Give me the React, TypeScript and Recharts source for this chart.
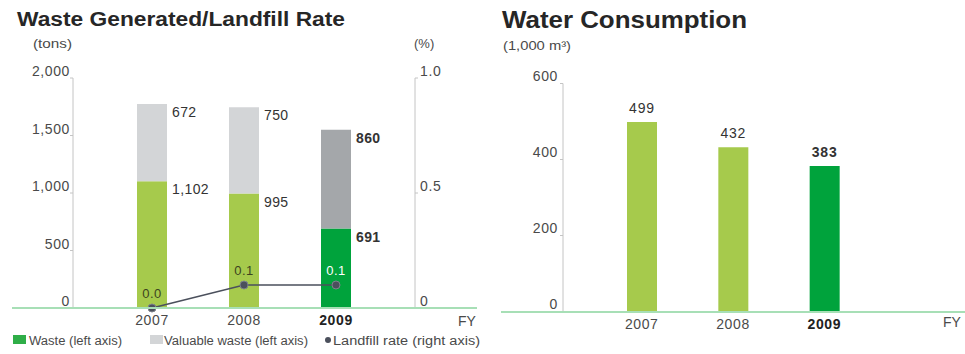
import React from "react";
import { ComposedChart, BarChart, Bar, Line, XAxis, YAxis, Cell, LabelList } from "recharts";

const years = ["2007", "2008", "2009"];
const waste = [1102, 995, 691];
const valuableWaste = [672, 750, 860];
const landfillRate = [0.0, 0.1, 0.1];
const water = [499, 432, 383];
const leftTicks = [0, 500, 1000, 1500, 2000];
const rightTicks = [0, 0.5, 1];
const waterTicks = [0, 200, 400, 600];

const wasteData = years.map((y, i) => ({ year: y, waste: waste[i], valuable: valuableWaste[i], rate: landfillRate[i] }));
const waterData = years.map((y, i) => ({ year: y, water: water[i] }));

const FONT = "'Liberation Sans', Arial, sans-serif";
const LIGHT_GREEN = "#a6ca4c";
const DARK_GREEN = "#00a33c";
const LIGHT_GRAY = "#d3d5d7";
const DARK_GRAY = "#a4a7aa";
const AXIS = "#c4c4c4";
const TXT = "#4a4a4a";

const fmtLeft = (v: number) => v.toLocaleString("en-US");
const fmtRight = (v: number) => (v === 0 ? "0" : v.toFixed(1));

const LeftTick = (p: any) => (
  <text x={p.x} y={p.y - 2} textAnchor="end" fontFamily={FONT} fontSize={14} letterSpacing={0.6} fill={TXT}>
    {fmtLeft(p.payload.value)}
  </text>
);
const RightTick = (p: any) => (
  <text x={p.x} y={p.y - 2} textAnchor="start" fontFamily={FONT} fontSize={14} letterSpacing={0.6} fill={TXT}>
    {fmtRight(p.payload.value)}
  </text>
);
const WaterTick = (p: any) => (
  <text x={p.x} y={p.y - 3} textAnchor="end" fontFamily={FONT} fontSize={14} letterSpacing={0.6} fill={TXT}>
    {p.payload.value}
  </text>
);
const YearTick = (p: any) => (
  <text x={p.x} y={p.y + 17} textAnchor="middle" fontFamily={FONT} fontSize={14} letterSpacing={0.6}
    fontWeight={p.payload.value === "2009" ? "bold" : "normal"} fill={p.payload.value === "2009" ? "#222" : TXT}>
    {p.payload.value}
  </text>
);

const sideLabel = (p: any) => {
  const bold = p.index === 2;
  return (
    <text x={p.x + p.width + 5} y={p.y + 13} fontFamily={FONT} fontSize={14} letterSpacing={0.4}
      fontWeight={bold ? "bold" : "normal"} fill="#333">
      {fmtLeft(p.value)}
    </text>
  );
};

const rateLabel = (p: any) => (
  <text x={p.x} y={p.y - 10} textAnchor="middle" fontFamily={FONT} fontSize={13} letterSpacing={0.4}
    fill={p.index === 2 ? "#fff" : "#3c4420"}>
    {p.value.toFixed(1)}
  </text>
);

const topLabel = (p: any) => {
  const bold = p.index === 2;
  return (
    <text x={p.x + p.width / 2} y={p.y - 9} textAnchor="middle" fontFamily={FONT} fontSize={14} letterSpacing={0.8}
      fontWeight={bold ? "bold" : "normal"} fill="#333">
      {p.value}
    </text>
  );
};

export default function App() {
  return (
    <div style={{ position: "absolute", left: 0, top: 0, width: 965, height: 354, background: "#fff", overflow: "hidden" }}>
      <div style={{ position: "absolute", left: 0, top: 0 }}>
        <ComposedChart width={480} height={354} data={wasteData} margin={{ top: 78, right: 64, bottom: 45, left: 72 }}>
          <XAxis dataKey="year" padding={{ left: 33, right: 33 }} axisLine={false} tickLine={false} tickSize={0} tickMargin={0} height={1} tick={<YearTick />} interval={0} />
          <YAxis yAxisId="l" domain={[0, 2000]} ticks={leftTicks} width={1} axisLine={{ stroke: AXIS }} tickLine={{ stroke: AXIS }} tickSize={3} tickMargin={0} tick={<LeftTick />} interval={0} />
          <YAxis yAxisId="r" orientation="right" domain={[0, 1]} ticks={rightTicks} width={1} axisLine={{ stroke: AXIS }} tickLine={{ stroke: AXIS }} tickSize={3} tickMargin={2} tick={<RightTick />} interval={0} />
          <Bar dataKey="waste" stackId="s" yAxisId="l" barSize={30} isAnimationActive={false}>
            {wasteData.map((d, i) => <Cell key={d.year} fill={i === 2 ? DARK_GREEN : LIGHT_GREEN} />)}
            <LabelList dataKey="waste" content={sideLabel} />
          </Bar>
          <Bar dataKey="valuable" stackId="s" yAxisId="l" barSize={30} isAnimationActive={false}>
            {wasteData.map((d, i) => <Cell key={d.year} fill={i === 2 ? DARK_GRAY : LIGHT_GRAY} />)}
            <LabelList dataKey="valuable" content={sideLabel} />
          </Bar>
          <Line dataKey="rate" yAxisId="r" type="linear" stroke="#4b505c" strokeWidth={1.6}
            dot={{ r: 4, fill: "#4b505c", stroke: "#7d828c", strokeWidth: 1 }} isAnimationActive={false}>
            <LabelList dataKey="rate" content={rateLabel} />
          </Line>
        </ComposedChart>
      </div>
      <div style={{ position: "absolute", left: 480, top: 0 }}>
        <BarChart width={485} height={354} data={waterData} margin={{ top: 83.5, right: 62, bottom: 41.5, left: 82 }}>
          <XAxis dataKey="year" padding={{ left: 33, right: 33 }} axisLine={false} tickLine={false} tickSize={0} tickMargin={0} height={1} tick={<YearTick />} interval={0} />
          <YAxis domain={[0, 600]} ticks={waterTicks} width={1} axisLine={{ stroke: AXIS }} tickLine={{ stroke: AXIS }} tickSize={3} tickMargin={2} tick={<WaterTick />} interval={0} />
          <Bar dataKey="water" barSize={30} isAnimationActive={false}>
            {waterData.map((d, i) => <Cell key={d.year} fill={i === 2 ? DARK_GREEN : LIGHT_GREEN} />)}
            <LabelList dataKey="water" content={topLabel} />
          </Bar>
        </BarChart>
      </div>
      {/* baselines */}
      <div style={{ position: "absolute", left: 12, top: 307, width: 465, height: 2, background: "#a7dfb6" }} />
      <div style={{ position: "absolute", left: 501, top: 311, width: 464, height: 2, background: "#a7dfb6" }} />
      <svg width={965} height={354} style={{ position: "absolute", left: 0, top: 0, pointerEvents: "none" }}>
        <text x={17} y={26} fontFamily={FONT} fontSize={20} fontWeight="bold" fill="#262626" textLength={328} lengthAdjust="spacingAndGlyphs">
          Waste Generated/Landfill Rate
        </text>
        <text x={502} y={28} fontFamily={FONT} fontSize={23} fontWeight="bold" fill="#262626" textLength={245} lengthAdjust="spacingAndGlyphs">
          Water Consumption
        </text>
        <text x={33} y={48} fontFamily={FONT} fontSize={13} fill={TXT} textLength={39} lengthAdjust="spacingAndGlyphs">(tons)</text>
        <text x={414} y={48} fontFamily={FONT} fontSize={13} fill={TXT}>(%)</text>
        <text x={503} y={50} fontFamily={FONT} fontSize={13} fill={TXT} textLength={68} lengthAdjust="spacingAndGlyphs">(1,000 m³)</text>
        <text x={458} y={326} fontFamily={FONT} fontSize={14} fill={TXT}>FY</text>
        <text x={943} y={327} fontFamily={FONT} fontSize={14} fill={TXT}>FY</text>
        {/* legend */}
        <rect x={13} y={335} width={13} height={9} fill="#2fae48" />
        <text x={29} y={345} fontFamily={FONT} fontSize={12} fill={TXT} textLength={93} lengthAdjust="spacingAndGlyphs">Waste (left axis)</text>
        <rect x={150} y={335} width={13} height={9} fill={LIGHT_GRAY} />
        <text x={164} y={345} fontFamily={FONT} fontSize={12} fill={TXT} textLength={144} lengthAdjust="spacingAndGlyphs">Valuable waste (left axis)</text>
        <circle cx={328} cy={340} r={3} fill="#4b505c" />
        <text x={333} y={345} fontFamily={FONT} fontSize={12} fill={TXT} textLength={147} lengthAdjust="spacingAndGlyphs">Landfill rate (right axis)</text>
      </svg>
    </div>
  );
}
